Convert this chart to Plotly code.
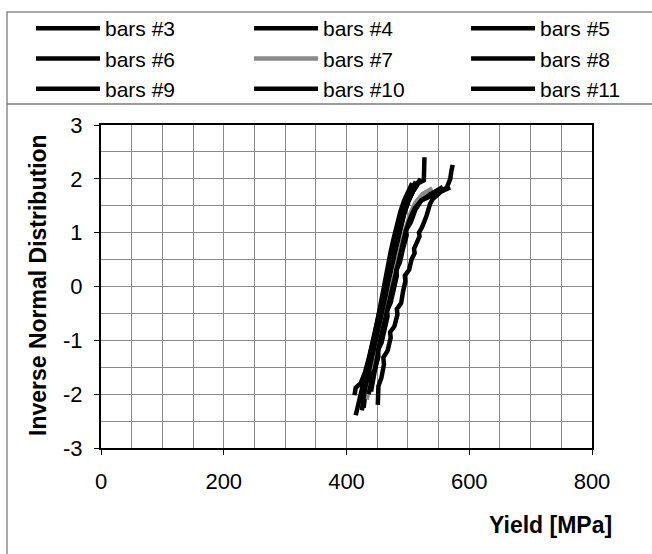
import plotly.graph_objects as go

# ---- data (Yield [MPa] vs inverse normal distribution) ----
names = ["bars #3", "bars #4", "bars #5", "bars #6", "bars #7",
         "bars #8", "bars #9", "bars #10", "bars #11"]

x3 = [415, 418, 421, 426, 432, 437, 442, 447, 451, 455, 459, 463, 468, 472, 477, 482, 488, 494, 501, 507]
y3 = [-2.39, -2.25, -2.05, -1.85, -1.6, -1.35, -1.1, -0.85, -0.6, -0.35, -0.1, 0.15, 0.4, 0.65, 0.9, 1.15, 1.4, 1.6, 1.8, 1.92]

x4 = [413, 415, 423, 430, 436, 441, 446, 451, 456, 461, 465, 470, 475, 480, 486, 492, 499, 506, 513]
y4 = [-2.02, -1.88, -1.8, -1.6, -1.35, -1.1, -0.85, -0.6, -0.35, -0.1, 0.15, 0.4, 0.65, 0.9, 1.15, 1.4, 1.62, 1.8, 1.95]

x5 = [428, 430, 432, 437, 442, 447, 452, 456, 460, 465, 469, 474, 478, 483, 489, 495, 501, 509, 517, 526, 527]
y5 = [-2.25, -2.05, -1.85, -1.6, -1.35, -1.1, -0.85, -0.6, -0.35, -0.1, 0.15, 0.4, 0.65, 0.9, 1.15, 1.4, 1.6, 1.78, 1.92, 1.97, 2.4]

x6 = [451, 453, 452, 457, 461, 460, 467, 472, 471, 478, 483, 482, 489, 492, 496, 495, 502, 506, 511, 510,
      514, 519, 518, 523, 530, 533, 536, 540, 546, 556, 564, 569, 571, 573]
y6 = [-2.2, -1.95, -1.85, -1.69, -1.45, -1.32, -1.19, -0.95, -0.85, -0.74, -0.52, -0.42, -0.31, -0.1, 0.1,
      0.2, 0.31, 0.5, 0.62, 0.7, 0.8, 0.93, 1.0, 1.1, 1.3, 1.45, 1.53, 1.62, 1.69, 1.78, 1.85, 2.0, 2.15, 2.26]

x7 = [433, 436, 440, 445, 450, 455, 460, 465, 470, 475, 480, 485, 491, 497, 504, 512, 524, 540]
y7 = [-2.1, -1.9, -1.65, -1.4, -1.15, -0.9, -0.65, -0.4, -0.15, 0.1, 0.35, 0.6, 0.85, 1.1, 1.35, 1.55, 1.72, 1.82]

x8 = [422, 425, 429, 434, 439, 444, 449, 454, 458, 463, 468, 473, 478, 484, 490, 497, 505, 513, 521]
y8 = [-2.15, -1.95, -1.75, -1.5, -1.25, -1.0, -0.75, -0.5, -0.25, 0.0, 0.25, 0.5, 0.75, 1.0, 1.25, 1.5, 1.7, 1.88, 2.0]

x9 = [436, 440, 439, 446, 452, 451, 457, 462, 467, 466, 472, 477, 482, 481, 487, 492, 498, 497, 505, 512,
      522, 535, 547, 557]
y9 = [-2.0, -1.8, -1.68, -1.55, -1.3, -1.18, -1.05, -0.8, -0.55, -0.45, -0.3, -0.05, 0.2, 0.3, 0.45, 0.7,
      0.95, 1.05, 1.2, 1.42, 1.6, 1.7, 1.78, 1.85]

x10 = [425, 427, 430, 435, 440, 445, 450, 455, 459, 464, 468, 473, 478, 483, 488, 494, 501, 509, 516]
y10 = [-2.3, -2.1, -1.9, -1.65, -1.4, -1.15, -0.9, -0.65, -0.4, -0.15, 0.1, 0.35, 0.6, 0.85, 1.1, 1.35, 1.58, 1.78, 1.9]

x11 = [440, 443, 447, 451, 455, 460, 465, 470, 475, 480, 485, 490, 496, 503, 511, 522, 538, 555, 569]
y11 = [-1.95, -1.75, -1.5, -1.25, -1.0, -0.75, -0.5, -0.25, 0.0, 0.25, 0.5, 0.75, 1.0, 1.25, 1.45, 1.6, 1.68, 1.75, 1.84]

x_tickvals = [0, 200, 400, 600, 800]
y_tickvals = [-3, -2, -1, 0, 1, 2, 3]
y_ticktext = ["-3", "-2", "-1", "0", "1", "2", "3"]

xs = [x3, x4, x5, x6, x7, x8, x9, x10, x11]
ys = [y3, y4, y5, y6, y7, y8, y9, y10, y11]
colors = ["#000000", "#000000", "#000000", "#000000", "#8a8a8a",
          "#000000", "#000000", "#000000", "#000000"]
legend_of = ["legend", "legend2", "legend3",
             "legend", "legend2", "legend3",
             "legend", "legend2", "legend3"]

FONT = "Arial, Liberation Sans, Helvetica, sans-serif"
W, H = 652, 554
L, R, T, B = 101, 60, 125, 106
PW, PH = W - L - R, H - T - B

def xp(px):
    return (px - L) / PW

def yp(py):
    return (H - B - py) / PH

fig = go.Figure()
for x, y, c, n, lg in zip(xs, ys, colors, names, legend_of):
    fig.add_trace(go.Scatter(x=x, y=y, mode="lines", name=n, legend=lg,
                             line=dict(color=c, width=4.5)))

legend_common = dict(xref="container", yref="container", xanchor="left", yanchor="top",
                     bgcolor="rgba(0,0,0,0)", borderwidth=0, itemwidth=64,
                     font=dict(family=FONT, size=21, color="#000"), tracegroupgap=0)
fig.update_layout(
    width=W, height=H,
    margin=dict(l=L, r=R, t=T, b=B, autoexpand=False),
    paper_bgcolor="white", plot_bgcolor="white",
    font=dict(family=FONT, size=22, color="#000"),
    legend=dict(x=31 / W, y=1 - 8 / H, **legend_common),
    legend2=dict(x=249 / W, y=1 - 8 / H, **legend_common),
    legend3=dict(x=466 / W, y=1 - 8 / H, **legend_common),
    xaxis=dict(range=[0, 800], tickvals=x_tickvals, showgrid=True, gridcolor="#8a8a8a", gridwidth=1,
               minor=dict(dtick=50, tick0=0, showgrid=True, gridcolor="#8a8a8a", gridwidth=1),
               showline=True, linecolor="#000", linewidth=2, mirror=True,
               ticks="outside", ticklen=5, tickcolor="#000", ticklabelstandoff=8,
               zeroline=False, tickfont=dict(family=FONT, size=22, color="#000")),
    yaxis=dict(range=[-3, 3], tickvals=y_tickvals, ticktext=y_ticktext,
               showgrid=True, gridcolor="#8a8a8a", gridwidth=1,
               minor=dict(dtick=0.5, tick0=0, showgrid=True, gridcolor="#8a8a8a", gridwidth=1),
               showline=True, linecolor="#000", linewidth=2, mirror=True,
               ticks="outside", ticklen=5, tickcolor="#000", ticklabelstandoff=7,
               zeroline=False, tickfont=dict(family=FONT, size=22, color="#000")),
    showlegend=True,
)

fig.add_annotation(text="<b>Yield [MPa]</b>", xref="paper", yref="paper",
                   x=xp(614), y=yp(525), xanchor="right", yanchor="middle",
                   showarrow=False, font=dict(family=FONT, size=23, color="#000"))
fig.add_annotation(text="<b>Inverse Normal Distribution</b>", xref="paper", yref="paper",
                   x=xp(38), y=yp(285), xanchor="center", yanchor="middle", textangle=-90,
                   showarrow=False, font=dict(family=FONT, size=23, color="#000"))

# outer chart border and legend box line
fig.add_shape(type="rect", xref="paper", yref="paper",
              x0=xp(7), x1=xp(700), y0=yp(600), y1=yp(12),
              line=dict(color="#8c8c8c", width=1.5), layer="below")
fig.add_shape(type="line", xref="paper", yref="paper",
              x0=xp(7), x1=xp(700), y0=yp(104), y1=yp(104),
              line=dict(color="#7a7a7a", width=1.5), layer="below")

fig.write_html("out.html")
